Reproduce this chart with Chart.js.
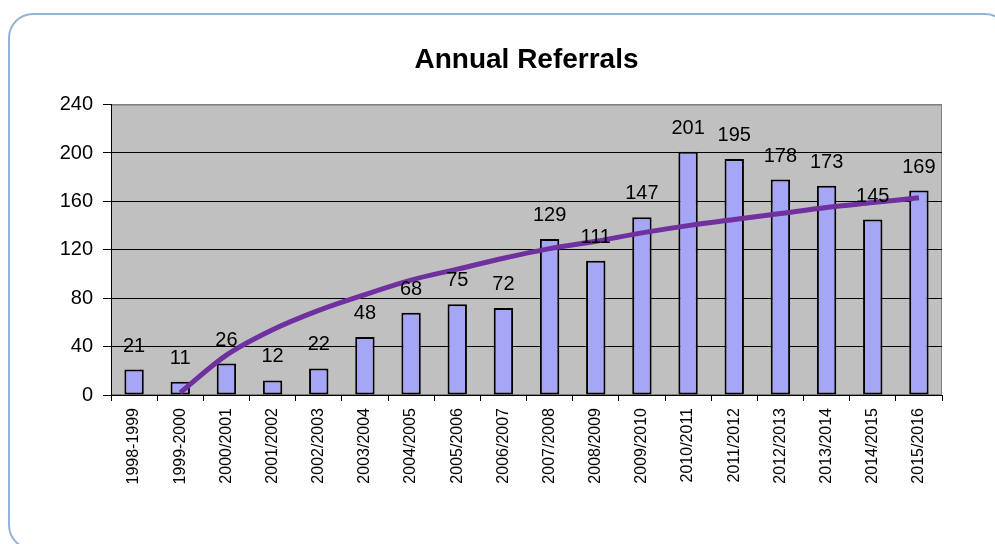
<!DOCTYPE html>
<html>
<head>
<meta charset="utf-8">
<script src="https://cdn.jsdelivr.net/npm/chart.js@4/dist/chart.umd.min.js"></script>
<style>
  body { margin: 0; background: #fff; }
  #wrap { position: relative; width: 995px; height: 544px; overflow: hidden; }
  #frame { position: absolute; left: 8px; top: 13px; width: 998px; height: 533px;
           border: 2px solid #95B3D7; border-radius: 25px; }
  #chart { position: absolute; left: 0; top: 0; }
</style>
</head>
<body>
<div id="wrap">
  <div id="frame"></div>
  <canvas id="chart" width="995" height="544"></canvas>
</div>
<script>
const years = ['1998-1999', '1999-2000', '2000/2001', '2001/2002', '2002/2003', '2003/2004',
  '2004/2005', '2005/2006', '2006/2007', '2007/2008', '2008/2009', '2009/2010',
  '2010/2011', '2011/2012', '2012/2013', '2013/2014', '2014/2015', '2015/2016'];
const referrals = [21, 11, 26, 12, 22, 48, 68, 75, 72, 129, 111, 147, 201, 195, 178, 173, 145, 169];
// trendline
const trend = [null, 2, 33, 54, 70, 83, 95, 104, 113, 121, 127, 134, 140, 145, 150, 155, 159, 163];
const yTicks = [0, 40, 80, 120, 160, 200, 240];

// grey plot area with a grey frame
const plotBack = {
  id: 'plotBack',
  beforeDraw(chart) {
    const { ctx, chartArea: a } = chart;
    ctx.save();
    ctx.fillStyle = '#C0C0C0';
    ctx.fillRect(a.left, a.top, a.right - a.left, a.bottom - a.top);
    ctx.strokeStyle = '#808080';
    ctx.lineWidth = 1;
    ctx.strokeRect(a.left + 0.5, a.top + 0.5, a.right - a.left - 1, a.bottom - a.top - 1);
    ctx.restore();
  }
};

// value labels above the bars
const barLabels = {
  id: 'barLabels',
  afterDatasetsDraw(chart) {
    const { ctx } = chart;
    const meta = chart.getDatasetMeta(1);
    ctx.save();
    ctx.font = '20px Arial, "Liberation Sans", sans-serif';
    ctx.fillStyle = '#000';
    ctx.textAlign = 'center';
    ctx.textBaseline = 'alphabetic';
    meta.data.forEach((bar, i) => {
      ctx.fillText(String(referrals[i]), bar.x, bar.y - 18);
    });
    ctx.restore();
  }
};

const ctx = document.getElementById('chart').getContext('2d');
new Chart(ctx, {
  data: {
    labels: years,
    datasets: [{
      type: 'line',
      data: trend,
      borderColor: '#7030A0',
      borderWidth: 5,
      pointRadius: 0,
      tension: 0.4,
      cubicInterpolationMode: 'monotone',
      order: 0
    }, {
      type: 'bar',
      data: referrals,
      backgroundColor: '#A6A6F7',
      borderColor: '#000',
      borderWidth: 2,
      borderSkipped: false,
      categoryPercentage: 1,
      barPercentage: 0.42,
      order: 1
    }]
  },
  options: {
    responsive: false,
    animation: false,
    layout: { padding: { left: 0, right: 53, top: 0, bottom: 0 } },
    plugins: {
      legend: { display: false },
      tooltip: { enabled: false },
      title: {
        display: true,
        text: 'Annual Referrals',
        fullSize: false,
        color: '#000',
        font: { family: 'Arial, "Liberation Sans", sans-serif', size: 28, weight: 'bold' },
        padding: { top: 43, bottom: 28 }
      }
    },
    scales: {
      x: {
        afterFit(scale) { scale.height = 149; },
        grid: { offset: true, drawOnChartArea: false, tickLength: 6, tickColor: '#000' },
        border: { color: '#000', width: 1 },
        ticks: {
          autoSkip: false, maxRotation: 90, minRotation: 90, padding: 7,
          color: '#000',
          font: { family: 'Arial, "Liberation Sans", sans-serif', size: 16 }
        }
      },
      y: {
        min: 0,
        max: 240,
        afterFit(scale) { scale.width = 111; },
        afterBuildTicks(scale) { scale.ticks = yTicks.map(v => ({ value: v })); },
        grid: {
          color: c => c.tick && c.tick.value === 240 ? '#808080' : '#000',
          tickLength: 8,
          tickColor: '#000'
        },
        border: { color: '#000', width: 1 },
        ticks: {
          padding: 10,
          color: '#000',
          font: { family: 'Arial, "Liberation Sans", sans-serif', size: 20 }
        }
      }
    }
  },
  plugins: [plotBack, barLabels]
});
</script>
</body>
</html>
